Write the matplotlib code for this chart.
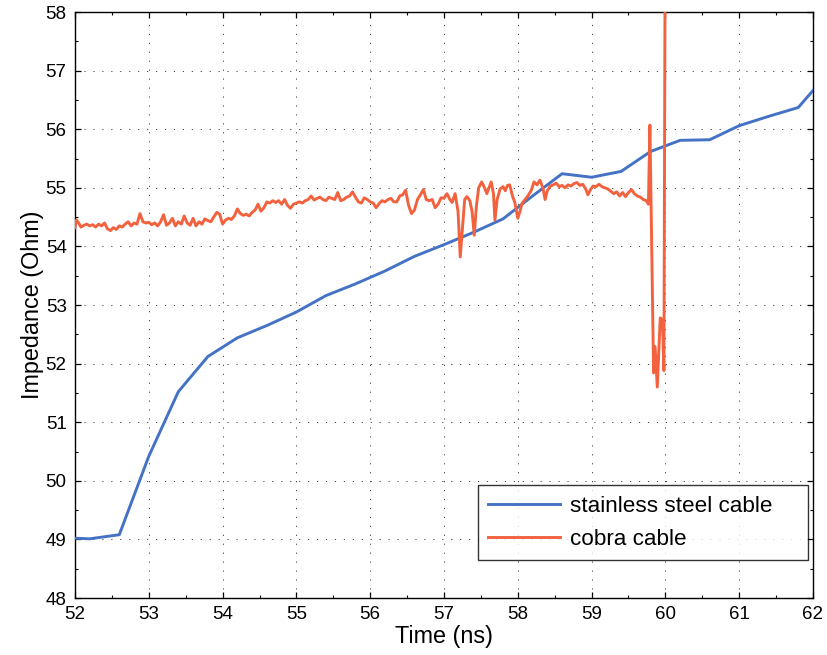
import matplotlib
matplotlib.use("Agg")
import matplotlib.pyplot as plt
from matplotlib.ticker import MultipleLocator

plt.rcParams['font.family'] = ['Liberation Sans', 'DejaVu Sans']

# stainless steel cable
steel_t = [52.0, 52.2, 52.6, 53.0, 53.4, 53.8, 54.2, 54.6, 55.0, 55.4, 55.8, 56.2, 56.6,
           57.0, 57.4, 57.8, 58.2, 58.6, 59.0, 59.4, 59.8, 60.2, 60.6, 61.0, 61.4, 61.8, 62.0]
steel_z = [49.02, 49.01, 49.08, 50.42, 51.52, 52.12, 52.44, 52.65, 52.88, 53.16, 53.36, 53.58, 53.83,
           54.03, 54.24, 54.47, 54.86, 55.24, 55.18, 55.28, 55.62, 55.81, 55.82, 56.06, 56.22, 56.37, 56.66]

# cobra cable
cobra_t = [
    52.00, 52.02, 52.05, 52.08, 52.12, 52.16, 52.20, 52.24, 52.28, 52.32, 52.36, 52.40, 52.44, 52.48,
    52.52, 52.56, 52.60, 52.64, 52.68, 52.72, 52.76, 52.80, 52.84, 52.88, 52.92, 52.96, 53.00, 53.04,
    53.08, 53.12, 53.16, 53.20, 53.24, 53.28, 53.32, 53.36, 53.40, 53.44, 53.48, 53.52, 53.56, 53.60,
    53.64, 53.68, 53.72, 53.76, 53.80, 53.84, 53.88, 53.92, 53.96, 54.00, 54.04, 54.08, 54.12, 54.16,
    54.20, 54.24, 54.28, 54.32, 54.36, 54.40, 54.44, 54.48, 54.52, 54.56, 54.60, 54.64, 54.68, 54.72,
    54.76, 54.80, 54.84, 54.88, 54.92, 54.96, 55.00, 55.04, 55.08, 55.12, 55.16, 55.20, 55.24, 55.28,
    55.32, 55.36, 55.40, 55.44, 55.48, 55.52, 55.56, 55.60, 55.64, 55.68, 55.72, 55.76, 55.80, 55.84,
    55.88, 55.92, 55.96, 56.00, 56.04, 56.08, 56.12, 56.16, 56.20, 56.24, 56.28, 56.32, 56.36, 56.40,
    56.44, 56.48, 56.52, 56.56, 56.60, 56.64, 56.68, 56.72, 56.76, 56.80, 56.84, 56.88, 56.92, 56.96,
    57.00, 57.04, 57.08, 57.11, 57.15, 57.19, 57.22, 57.25, 57.28, 57.31, 57.35, 57.38, 57.41, 57.44,
    57.47, 57.51, 57.55, 57.58, 57.61, 57.64, 57.67, 57.69, 57.72, 57.76, 57.80, 57.83, 57.86, 57.89,
    57.93, 57.96, 58.00, 58.03, 58.06, 58.10, 58.14, 58.18, 58.22, 58.26, 58.30, 58.34, 58.37, 58.40,
    58.44, 58.48, 58.52, 58.56, 58.60, 58.64, 58.68, 58.72, 58.76, 58.80, 58.84, 58.88, 58.92, 58.95,
    58.98, 59.02, 59.06, 59.10, 59.14, 59.18, 59.22, 59.26, 59.30, 59.34, 59.38, 59.42, 59.46, 59.50,
    59.54, 59.58, 59.62, 59.66, 59.70, 59.74, 59.77, 59.79, 59.84, 59.86, 59.89, 59.93, 59.96, 59.98,
    60.00]
cobra_z = [
    54.32, 54.45, 54.40, 54.33, 54.36, 54.38, 54.35, 54.37, 54.33, 54.38, 54.35, 54.40, 54.30, 54.27,
    54.32, 54.29, 54.35, 54.33, 54.38, 54.42, 54.35, 54.40, 54.38, 54.56, 54.42, 54.40, 54.41, 54.37,
    54.40, 54.35, 54.42, 54.54, 54.36, 54.40, 54.48, 54.35, 54.42, 54.38, 54.52, 54.40, 54.36, 54.48,
    54.35, 54.42, 54.38, 54.47, 54.44, 54.42, 54.50, 54.58, 54.55, 54.38, 54.45, 54.48, 54.46, 54.52,
    54.64, 54.56, 54.53, 54.55, 54.52, 54.58, 54.62, 54.72, 54.60, 54.66, 54.76, 54.74, 54.78, 54.75,
    54.78, 54.72, 54.80, 54.70, 54.65, 54.72, 54.74, 54.76, 54.74, 54.78, 54.80, 54.86, 54.79, 54.82,
    54.84, 54.80, 54.78, 54.84, 54.82, 54.80, 54.92, 54.78, 54.80, 54.84, 54.86, 54.93, 54.84, 54.76,
    54.74, 54.83, 54.80, 54.76, 54.74, 54.66, 54.73, 54.78, 54.76, 54.80, 54.82, 54.76, 54.76, 54.86,
    54.88, 54.96, 54.70, 54.56, 54.62, 54.80, 54.88, 54.97, 54.80, 54.78, 54.80, 54.66, 54.72, 54.83,
    54.82, 54.90, 54.80, 54.75, 54.90, 54.60, 53.82, 54.30, 54.80, 54.85, 54.78, 54.60, 54.19, 54.70,
    55.00, 55.10, 55.00, 54.90, 55.00, 55.10, 54.90, 54.45, 54.80, 54.98, 55.02, 54.95, 55.04, 55.05,
    54.85, 54.75, 54.48, 54.60, 54.74, 54.80, 54.87, 54.95, 55.10, 55.05, 55.13, 55.00, 54.80, 54.95,
    55.03, 55.05, 55.08, 55.02, 55.04, 55.00, 55.05, 55.03, 55.07, 55.09, 55.04, 55.06, 54.98, 54.88,
    54.96, 55.03, 55.02, 55.06, 55.02, 55.00, 54.98, 54.94, 54.90, 54.93, 54.86, 54.92, 54.85, 54.92,
    54.97, 54.90, 54.86, 54.84, 54.80, 54.78, 54.72, 56.07, 51.84, 52.29, 51.60, 52.78, 52.75, 51.88,
    60.50]

x_ticks = [52, 53, 54, 55, 56, 57, 58, 59, 60, 61, 62]
y_ticks = [48, 49, 50, 51, 52, 53, 54, 55, 56, 57, 58]
labels = ["stainless steel cable", "cobra cable"]

fig = plt.figure(figsize=(8.27, 6.55), dpi=100)
ax = fig.add_axes([75/827, 57/655, 738/827, 586/655])

ax.plot(steel_t, steel_z, color='#4472c4', lw=2.1, label=labels[0], zorder=3)
ax.plot(cobra_t, cobra_z, color='#f3623f', lw=2.1, label=labels[1], zorder=4)

ax.set_xlim(52, 62)
ax.set_ylim(48, 58)
ax.set_xticks(x_ticks)
ax.set_yticks(y_ticks)
ax.xaxis.set_minor_locator(MultipleLocator(0.5))
ax.yaxis.set_minor_locator(MultipleLocator(0.5))
ax.tick_params(which='both', direction='in', top=True, right=True, labelsize=13.5, pad=6)
ax.tick_params(which='major', length=4.5, width=0.9)
ax.tick_params(which='minor', length=2.5, width=0.8)
for s in ax.spines.values():
    s.set_linewidth(1.0)

ax.grid(True, which='major', color='#444444', lw=0.7, linestyle=(0, (1.2, 8)))
ax.set_axisbelow(True)

ax.set_xlabel("Time (ns)", fontsize=16.8, labelpad=1)
ax.set_ylabel("Impedance (Ohm)", fontsize=16.8, labelpad=1)

leg = ax.legend(loc='lower left', bbox_to_anchor=(403/738, 38/586, 330/738, 77/586),
                mode='expand', borderaxespad=0,
                fontsize=16.2, frameon=True, fancybox=False, handlelength=3.2,
                handletextpad=0.45, borderpad=0.45, labelspacing=0.55)
leg.get_frame().set_edgecolor('black')
leg.get_frame().set_linewidth(1.0)

fig.savefig("out.png", dpi=100)
